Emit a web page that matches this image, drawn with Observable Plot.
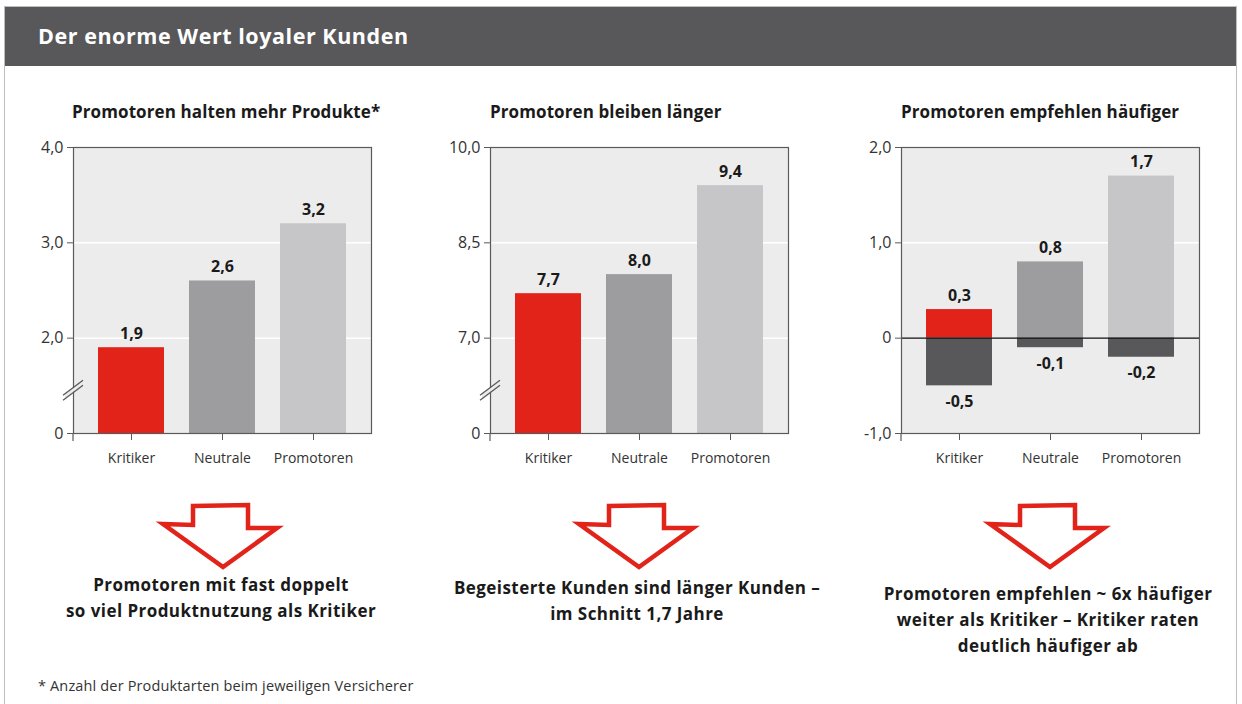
<!DOCTYPE html>
<html><head><meta charset="utf-8">
<script src="https://cdn.jsdelivr.net/npm/d3@7"></script>
<script src="https://cdn.jsdelivr.net/npm/@observablehq/plot@0.6"></script>
<style>
body{margin:0;background:#fff;font-family:"Open Sans",Lato,sans-serif;}
#root{position:relative;width:1242px;height:704px;overflow:hidden;background:#fff;}
.border{position:absolute;left:4px;top:6px;width:1233px;height:740px;border:1px solid #bdbdbd;box-sizing:border-box;}
.header{position:absolute;left:5px;top:7px;width:1231px;height:59px;background:#58585a;}
.header span{position:absolute;left:33px;top:15px;color:#fff;font-weight:700;font-size:21.5px;line-height:28px;letter-spacing:0.55px;}
.ptitle{position:absolute;top:100px;font-weight:700;font-size:17px;line-height:24px;color:#1a1a1a;white-space:nowrap;letter-spacing:0.1px;}
.concl{position:absolute;width:460px;text-align:center;font-weight:700;font-size:17px;line-height:26px;color:#1a1a1a;letter-spacing:0.45px;}
.foot{position:absolute;left:38px;top:676px;font-size:14.5px;color:#333;white-space:nowrap;letter-spacing:0.15px;}
.panel{position:absolute;top:130px;}
.arrow{position:absolute;top:495px;}
</style></head>
<body><div id="root"></div>
<script>
// ---- data ----
const categories = ["Kritiker", "Neutrale", "Promotoren"];
const produkte = [1.9, 2.6, 3.2];
const verweildauer = [7.7, 8.0, 9.4];
const empfehlungPos = [0.3, 0.8, 1.7];
const empfehlungNeg = [-0.5, -0.1, -0.2];
const barColors = ["#e2231a", "#9d9d9f", "#c6c6c8"];
const negColor = "#58585a";
const ticks1 = [1, 2, 3, 4];
const tickLabels1 = ["0", "2,0", "3,0", "4,0"];
const ticks2 = [5.5, 7, 8.5, 10];
const tickLabels2 = ["0", "7,0", "8,5", "10,0"];
const ticks3 = [-1, 0, 1, 2];
const tickLabels3 = ["-1,0", "0", "1,0", "2,0"];
const headerTitle = "Der enorme Wert loyaler Kunden";
const panelTitles = ["Promotoren halten mehr Produkte*", "Promotoren bleiben länger", "Promotoren empfehlen häufiger"];
const conclusions = [
  ["Promotoren mit fast doppelt", "so viel Produktnutzung als Kritiker"],
  ["Begeisterte Kunden sind länger Kunden –", "im Schnitt 1,7 Jahre"],
  ["Promotoren empfehlen ~ 6x häufiger", "weiter als Kritiker – Kritiker raten", "deutlich häufiger ab"]
];
const footnote = "* Anzahl der Produktarten beim jeweiligen Versicherer";

const fmt = v => v.toFixed(1).replace(".", ",");
const root = document.getElementById("root");
const FONT = "'Open Sans', Lato, sans-serif";

function add(cls, html, style) {
  const d = document.createElement("div");
  d.className = cls;
  if (html != null) d.innerHTML = html;
  Object.assign(d.style, style || {});
  root.appendChild(d);
  return d;
}

add("border");
const h = add("header");
h.innerHTML = `<span>${headerTitle}</span>`;

function makePanel({values, neg, domain, ticks, tickLabels, grid, brk, zero, left}) {
  const rows = categories.map((c, i) => ({cat: c, v: values[i]}));
  const negRows = neg ? categories.map((c, i) => ({cat: c, v: neg[i]})) : [];
  const base = zero ? 0 : domain[0];
  const labelMap = new Map(ticks.map((t, i) => [t, tickLabels[i]]));
  const marks = [
    Plot.frame({fill: "#ececec"}),
    Plot.ruleY(grid, {stroke: "#fff", strokeWidth: 1.5}),
    Plot.barY(rows, {x: "cat", y1: base, y2: "v", fill: "cat"}),
    neg ? Plot.barY(negRows, {x: "cat", y1: 0, y2: "v", fill: negColor}) : null,
    zero ? Plot.ruleY([0], {stroke: "#111", strokeWidth: 1.2}) : null,
    Plot.text(rows, {x: "cat", y: "v", text: d => fmt(d.v), dy: -14, fontWeight: 700, fontSize: 16, fill: "#1a1a1a"}),
    neg ? Plot.text(negRows, {x: "cat", y: "v", text: d => fmt(d.v), dy: 16, fontWeight: 700, fontSize: 16, fill: "#1a1a1a"}) : null,
    Plot.frame({stroke: "#5a5a5a", strokeWidth: 1.2}),
    Plot.axisY({ticks, tickFormat: d => labelMap.get(d), tickSize: 6, tickPadding: 4, fontSize: 16, stroke: "#5a5a5a"}),
    Plot.axisX({tickSize: 7, tickPadding: 13, fontSize: 14, stroke: "#5a5a5a"}),
    (index, scales, vals, dims) => {
      const g = d3.create("svg:g");
      const x0 = dims.marginLeft, yb = dims.height - dims.marginBottom;
      g.append("line").attr("x1", x0).attr("x2", x0).attr("y1", yb).attr("y2", yb + 8)
        .attr("stroke", "#5a5a5a").attr("stroke-width", 1.2);
      if (brk != null) {
        const y = scales.y(brk);
        g.append("path").attr("d", `M${x0 - 8},${y + 7}L${x0 + 8},${y - 5}L${x0 + 8},${y - 1}L${x0 - 8},${y + 11}Z`)
          .attr("fill", "#ececec");
        g.append("path").attr("d", `M${x0 - 10},${y + 8}L${x0 + 10},${y - 7}`).attr("stroke", "#5a5a5a").attr("stroke-width", 1.3);
        g.append("path").attr("d", `M${x0 - 10},${y + 13}L${x0 + 10},${y - 2}`).attr("stroke", "#5a5a5a").attr("stroke-width", 1.3);
      }
      return g.node();
    }
  ];
  const svg = Plot.plot({
    width: 361, height: 345,
    marginLeft: 53, marginRight: 10, marginTop: 17, marginBottom: 42,
    style: {fontFamily: FONT, color: "#333", background: "transparent"},
    x: {domain: categories, paddingInner: 0.28, paddingOuter: 0.26, label: null},
    y: {domain, label: null},
    color: {domain: categories, range: barColors},
    marks
  });
  const wrap = add("panel");
  wrap.style.left = left + "px";
  wrap.appendChild(svg);
}

makePanel({values: produkte, domain: [1, 4], ticks: ticks1, tickLabels: tickLabels1, grid: [2, 3], brk: 1.48, left: 20});
makePanel({values: verweildauer, domain: [5.5, 10], ticks: ticks2, tickLabels: tickLabels2, grid: [7, 8.5], brk: 6.22, left: 437});
makePanel({values: empfehlungPos, neg: empfehlungNeg, domain: [-1, 2], ticks: ticks3, tickLabels: tickLabels3, grid: [1], zero: true, left: 848});

const plotLefts = [72, 490, 901];
const centers = [221, 637, 1048];
panelTitles.forEach((t, i) => add("ptitle", t, {left: plotLefts[i] + "px"}));

const conclTops = [572, 575, 581];
conclusions.forEach((lines, i) => add("concl", lines.join("<br>"), {left: (centers[i] - 230) + "px", top: conclTops[i] + "px"}));

// decorative arrows
centers.forEach(cx => {
  const s = d3.create("svg").attr("width", 140).attr("height", 80).attr("class", "arrow")
    .style("left", (cx - 70) + "px");
  const o = 70, t = -495;
  const pts = [[-28, 506], [27, 505], [27, 528], [56, 528], [2, 567], [-58, 524], [-28, 525]];
  s.append("path")
    .attr("d", "M" + pts.map(p => `${o + p[0]},${p[1] + t}`).join("L") + "Z")
    .attr("fill", "none").attr("stroke", "#e2231a").attr("stroke-width", 4.5).attr("stroke-linejoin", "miter");
  root.appendChild(s.node());
});

add("foot", footnote);
</script>
</body></html>
